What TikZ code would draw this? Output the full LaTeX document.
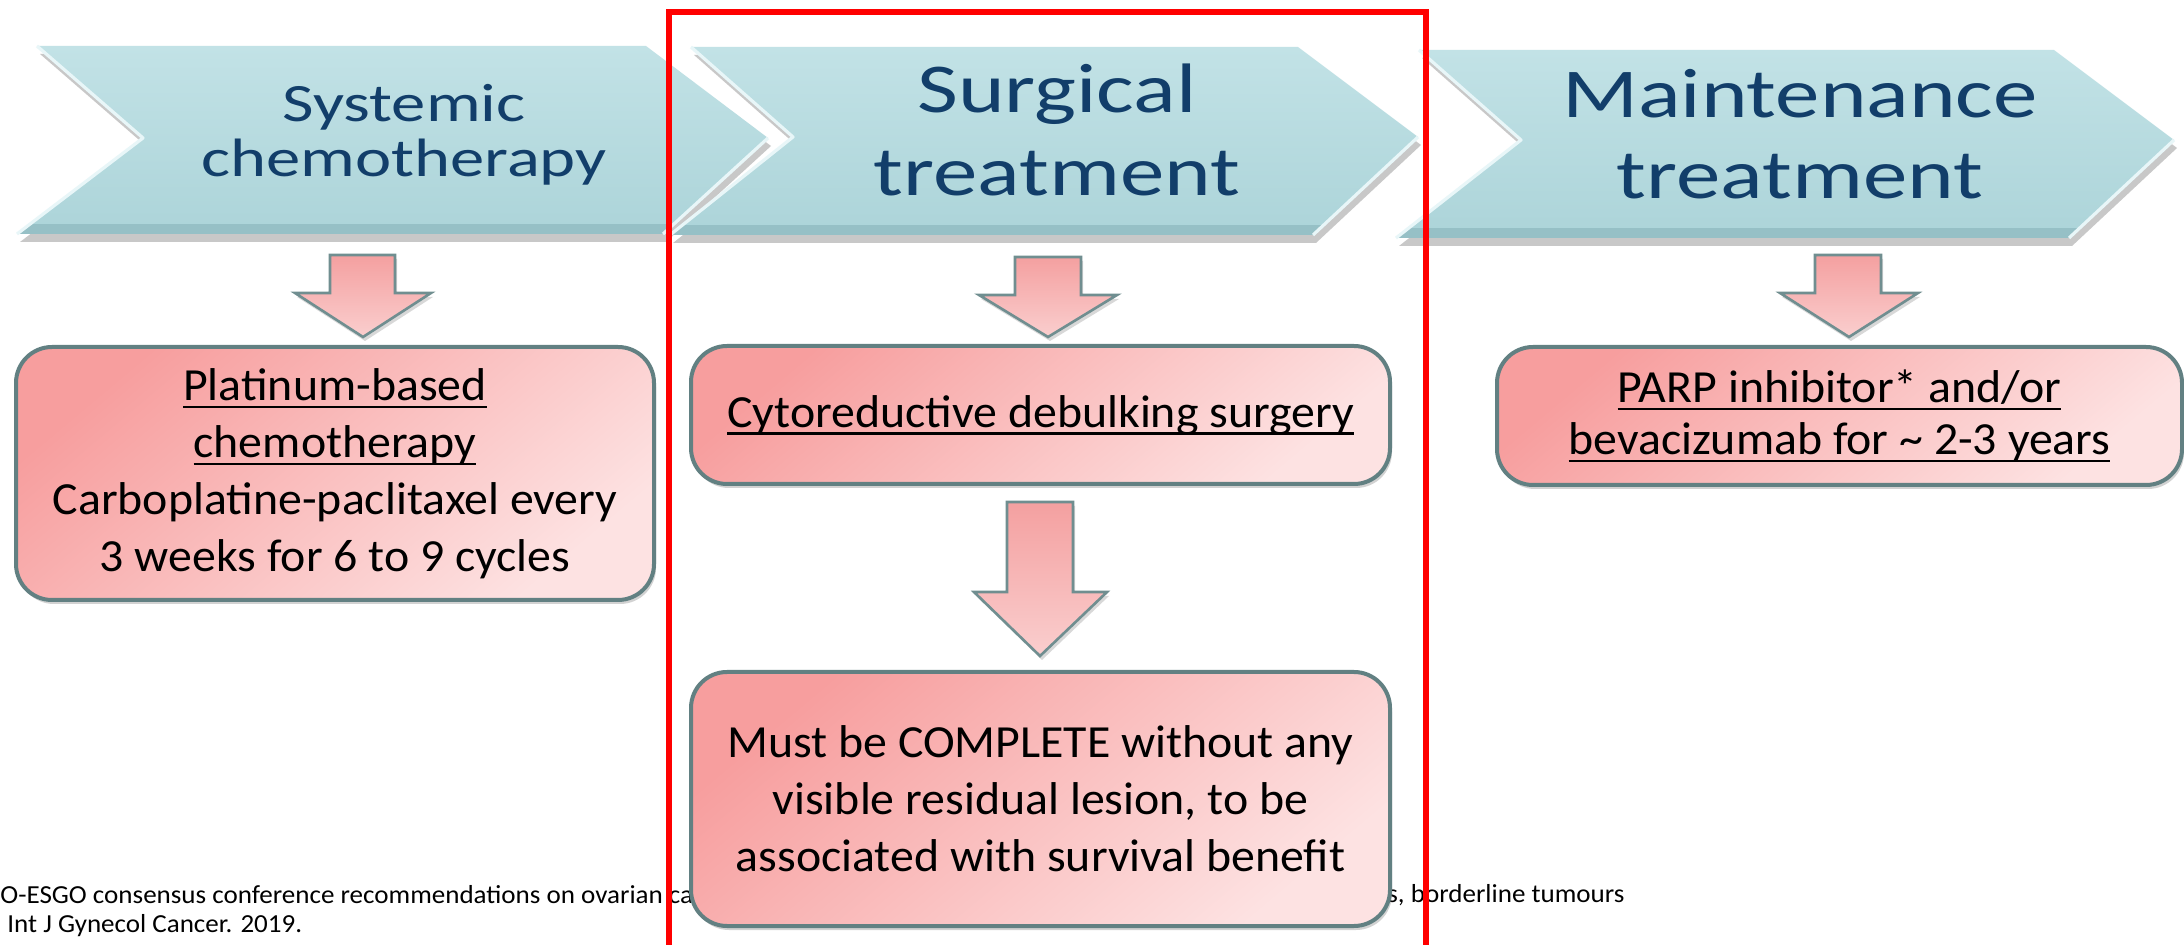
\documentclass[tikz,border=0pt]{standalone}
\usepackage{fontspec}
\setmainfont{Carlito}
\newfontfamily\titlefont[FakeStretch=1.27]{Carlito}
\newfontfamily\bodyfont[FakeStretch=1.04]{Carlito}
\usetikzlibrary{shadows}
\definecolor{chevA}{RGB}{194,226,230}
\definecolor{chevB}{RGB}{172,212,217}
\definecolor{chevBevel}{RGB}{150,192,198}
\definecolor{chevHi}{RGB}{232,246,248}
\definecolor{titleblue}{RGB}{18,62,106}
\definecolor{pkDark}{RGB}{247,158,158}
\definecolor{pkLight}{RGB}{253,226,226}
\definecolor{boxline}{RGB}{98,128,130}
\definecolor{arrA}{RGB}{244,160,160}
\definecolor{arrB}{RGB}{250,206,206}
\definecolor{arrline}{RGB}{112,142,144}
\newsavebox\ulbox
\newcommand\myul[1]{\sbox\ulbox{#1}\rlap{\rule[-0.17em]{\wd\ulbox}{0.055em}}\usebox\ulbox}
\tikzset{
  chevfill/.style={top color=chevA, bottom color=chevB,
    drop shadow={shadow xshift=1.5pt, shadow yshift=-4pt, opacity=0.3, fill=black!70}},
  chevhi/.style={draw=chevHi, line width=1.6pt, line join=round},
  titletext/.style={text=titleblue, align=center, inner sep=0pt},
  pinkbox/.style={draw=boxline, line width=2pt, rounded corners=18pt,
    top color=pkDark, bottom color=pkLight, shading angle=40,
    drop shadow={shadow xshift=1pt, shadow yshift=-2pt, opacity=0.35},
    align=center, inner sep=0pt, text=black,
    font=\bodyfont\fontsize{23pt}{28.5pt}\selectfont},
  blockarr/.style={draw=arrline, line width=1.3pt, line join=miter,
    top color=arrA, bottom color=arrB,
    drop shadow={shadow xshift=1pt, shadow yshift=-2pt, opacity=0.3}},
  foot/.style={inner sep=0pt, anchor=base west, text=black,
    font=\bodyfont\fontsize{13pt}{15pt}\selectfont},
  redframe/.style={draw=red, line width=2.6pt, line join=miter}
}
\begin{document}
\begin{tikzpicture}[x=0.5pt,y=-0.5pt]
\useasboundingbox (0,0) rectangle (2184,945);
\fill[white] (0,0) rectangle (2184,945);

% footnote (partly covered by the lower box)
\node[foot] (fn1) at (0,903) {O-ESGO consensus conference recommendations on ovarian can};
\node[foot] (fn2) at (7,932) {Int J Gynecol Cancer. 2019.};
\node[foot] (fn3) at (1387,902) {s, borderline tumours};

% chevron 1
\coordinate (c1tl) at (37,46);   \coordinate (c1tr) at (646,46);
\coordinate (c1tip) at (768,138); \coordinate (c1br) at (663,234);
\coordinate (c1bl) at (17,234);  \coordinate (c1n) at (143,138);
\path[chevfill] (c1tl) -- (c1tr) -- (c1tip) -- (c1br) -- (c1bl) -- (c1n) -- cycle;
\begin{scope}
  \clip (c1tl) -- (c1tr) -- (c1tip) -- (c1br) -- (c1bl) -- (c1n) -- cycle;
  \fill[chevBevel] (0,224) rectangle (800,240);
\end{scope}
\draw[chevhi] (c1tl) -- (c1n) -- (c1bl);
\draw[chevhi] (c1tip) -- (c1br);

% chevron 2
\coordinate (c2tl) at (691,47);   \coordinate (c2tr) at (1298,47);
\coordinate (c2tip) at (1418,137); \coordinate (c2br) at (1313,235);
\coordinate (c2bl) at (670,235);  \coordinate (c2n) at (793,137);
\path[chevfill] (c2tl) -- (c2tr) -- (c2tip) -- (c2br) -- (c2bl) -- (c2n) -- cycle;
\begin{scope}
  \clip (c2tl) -- (c2tr) -- (c2tip) -- (c2br) -- (c2bl) -- (c2n) -- cycle;
  \fill[chevBevel] (600,225) rectangle (1450,240);
\end{scope}
\draw[chevhi] (c2tl) -- (c2n) -- (c2bl);
\draw[chevhi] (c2tip) -- (c2br);

% chevron 3
\coordinate (c3tl) at (1419,50);   \coordinate (c3tr) at (2054,50);
\coordinate (c3tip) at (2174,140); \coordinate (c3br) at (2069,238);
\coordinate (c3bl) at (1396,238);  \coordinate (c3n) at (1521,140);
\path[chevfill] (c3tl) -- (c3tr) -- (c3tip) -- (c3br) -- (c3bl) -- (c3n) -- cycle;
\begin{scope}
  \clip (c3tl) -- (c3tr) -- (c3tip) -- (c3br) -- (c3bl) -- (c3n) -- cycle;
  \fill[chevBevel] (1380,228) rectangle (2184,245);
\end{scope}
\draw[chevhi] (c3tl) -- (c3n) -- (c3bl);
\draw[chevhi] (c3tip) -- (c3br);

% chevron titles
\node[titletext, font=\titlefont\fontsize{27pt}{27.5pt}\selectfont] (t1) at (404,135) {Systemic\\chemotherapy};
\node[titletext, font=\titlefont\fontsize{35pt}{41.5pt}\selectfont] (t2) at (1057,130) {Surgical\\treatment};
\node[titletext, font=\titlefont\fontsize{35pt}{40.5pt}\selectfont] (t3) at (1800,134) {Maintenance\\treatment};

% block arrows
\path[blockarr] (330,255) -- (395,255) -- (395,293) -- (431,293) -- (363,337) -- (295,293) -- (330,293) -- cycle;
\path[blockarr] (1015,257) -- (1081,257) -- (1081,295) -- (1117,295) -- (1048,337) -- (979,295) -- (1015,295) -- cycle;
\path[blockarr] (1815,255) -- (1881,255) -- (1881,293) -- (1918,293) -- (1849,337) -- (1780,293) -- (1815,293) -- cycle;
\path[blockarr] (1007,502) -- (1073,502) -- (1073,592) -- (1107,592) -- (1040,656) -- (974,592) -- (1007,592) -- cycle;

% boxes
\node[pinkbox, minimum width=319pt, minimum height=126.5pt] (b1) at (335,473.5)
  {\myul{Platinum-based}\\\myul{chemotherapy}\\Carboplatine-paclitaxel every\\3 weeks for 6 to 9 cycles};
\node[pinkbox, minimum width=349.5pt, minimum height=69pt] (b2) at (1040.5,415)
  {\myul{Cytoreductive debulking surgery}};
\node[pinkbox, minimum width=349.5pt, minimum height=127pt] (b3) at (1040.5,799)
  {Must be COMPLETE without any\\visible residual lesion, to be\\associated with survival benefit};
\node[pinkbox, minimum width=342.5pt, minimum height=69pt, font=\bodyfont\fontsize{23pt}{26pt}\selectfont] (b4) at (1839.5,416)
  {\myul{PARP inhibitor* and/or}\\\myul{bevacizumab for \textasciitilde{} 2-3 years}};

% red frame
\coordinate (rf1) at (669,960); \coordinate (rf2) at (669,12);
\coordinate (rf3) at (1426,12); \coordinate (rf4) at (1426,960);
\draw[redframe] (rf1) -- (rf2) -- (rf3) -- (rf4);
\end{tikzpicture}
\end{document}
